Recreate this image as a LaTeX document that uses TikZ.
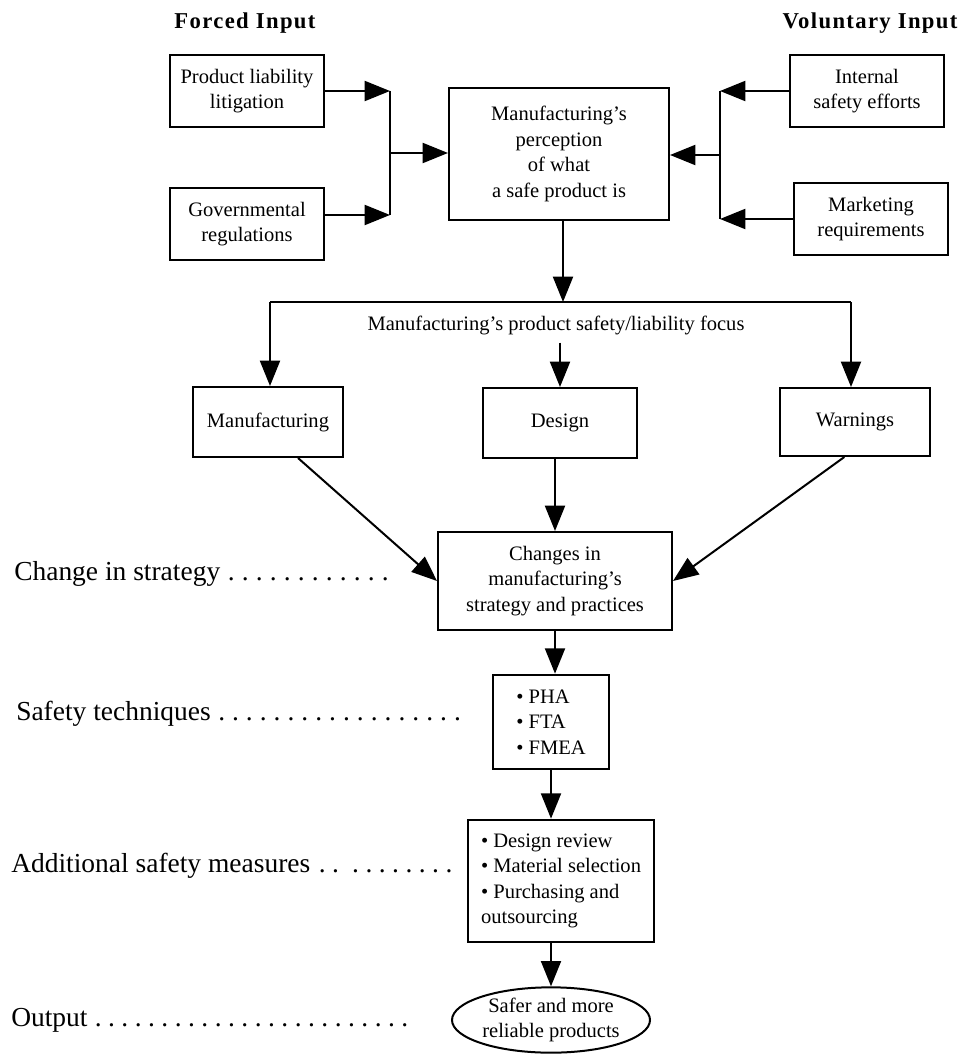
\documentclass[tikz,border=0pt]{standalone}
\usepackage{fontspec}
\setmainfont{Liberation Serif}
\usetikzlibrary{arrows.meta,calc,shapes.geometric}
\newcommand\dotrun[2]{\hbox{\foreach \i in {1,...,#1}{\hbox to #2{\hss.\hss}}}}
\begin{document}
\frenchspacing
\begin{tikzpicture}[x=0.75pt,y=-0.75pt,
  box/.style={draw,line width=1.5pt,align=center,inner sep=0pt,font=\fontsize{15.4}{19.2}\selectfont},
  lbox/.style={box,align=left},
  arr/.style={line width=1.5pt,-{Triangle[length=19pt,width=15pt]}},
  ln/.style={line width=1.5pt},
  side/.style={anchor=base west,inner sep=0pt,font=\fontsize{20.6}{24}\selectfont},
  ttl/.style={inner sep=0pt,font=\fontsize{17}{20}\selectfont\bfseries\addfontfeatures{LetterSpace=6}},
  plain/.style={inner sep=0pt,font=\fontsize{15.4}{19.2}\selectfont}]
\path[use as bounding box,fill=white] (0,0) rectangle (965,1055);

% titles
\node[ttl] (tf) at (245,23) {Forced Input};
\node[ttl] (tv) at (870,23) {Voluntary Input};

% input boxes
\node[box,minimum width=115.5pt,minimum height=54pt] (pl) at (247,91) {Product liability\\litigation};
\node[box,minimum width=115.5pt,minimum height=54pt] (gov) at (247,224) {Governmental\\regulations};
\node[box,minimum width=165pt,minimum height=99pt] (perc) at (559,154) {Manufacturing's\\perception\\of what\\a safe product is};
\node[box,minimum width=116pt,minimum height=54pt] (int) at (867,91) {Internal\\safety efforts};
\node[box,minimum width=115pt,minimum height=54pt] (mkt) at (871,219) {Marketing\\requirements};

% focus
\node[plain] (focus) at (556,325) {Manufacturing's product safety/liability focus};
\node[box,minimum width=113pt,minimum height=52.5pt] (mfg) at (268,422) {Manufacturing};
\node[box,minimum width=115pt,minimum height=52.5pt] (des) at (560,423) {Design};
\node[box,minimum width=112.5pt,minimum height=51pt] (warn) at (855,422) {Warnings};

% lower chain
\node[box,minimum width=175.5pt,minimum height=73.5pt] (chg) at (555,581) {Changes in\\manufacturing's\\strategy and practices};
\node[lbox,minimum width=87pt,minimum height=71pt] (tech) at (551,722) {• PHA\\• FTA\\• FMEA};
\node[lbox,minimum width=140pt,minimum height=92pt] (meas) at (561,881) {• Design review\\• Material selection\\• Purchasing and\\outsourcing};
\node[box,ellipse,minimum width=148.5pt,minimum height=49pt] (out) at (551,1020) {Safer and more\\reliable products};

% side labels
\node[side] (l1) at (14,580) {Change in strategy\hspace{3pt}\dotrun{12}{10.5pt}};
\node[side] (l2) at (16,720) {Safety techniques\hspace{3pt}\dotrun{18}{10.4pt}};
\node[side] (l3) at (11,872) {Additional safety measures\hspace{4pt}\dotrun{2}{10pt}\hspace{5pt}\dotrun{8}{10pt}};
\node[side] (l4) at (11,1026) {Output\hspace{3pt}\dotrun{24}{10pt}};

% left inputs
\coordinate (jl) at (390,153);
\draw[arr] (pl.east) -- (pl.east -| jl);
\draw[arr] ([yshift=6.75pt]gov.east) -- ([yshift=6.75pt]gov.east -| jl);
\draw[ln] (pl.east -| jl) -- ([yshift=6.75pt]gov.east -| jl);
\draw[arr] (jl) -- (jl -| perc.west);

% right inputs
\coordinate (jr) at (720,155);
\draw[arr] (int.west) -- (int.west -| jr);
\draw[arr] (mkt.west) -- (mkt.west -| jr);
\draw[ln] (int.west -| jr) -- (mkt.west -| jr);
\draw[arr] (jr) -- (jr -| perc.east);

% distribution
\coordinate (hb) at (563,302);
\coordinate (hl) at (270,302);
\coordinate (hr) at (851,302);
\draw[arr] (perc.south -| hb) -- (hb);
\draw[ln] (hl) -- (hr);
\draw[arr] (hl) -- (hl |- mfg.north);
\draw[arr] (hr) -- (hr |- warn.north);
\draw[arr] ([yshift=-6pt]focus.south -| des.north) -- (des.north);

% to changes
\draw[arr] ([xshift=22.5pt]mfg.south) -- (chg.west);
\draw[arr] ([xshift=-8pt]warn.south) -- (chg.east);
\draw[arr] (des.south -| chg.north) -- (chg.north);
\draw[arr] (chg.south) -- (chg.south |- tech.north);
\draw[arr] (tech.south) -- (tech.south |- meas.north);
\draw[arr] (out.north |- meas.south) -- (out.north);
\end{tikzpicture}
\end{document}
